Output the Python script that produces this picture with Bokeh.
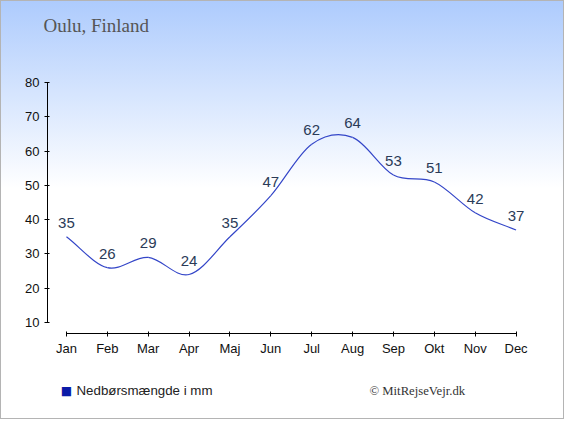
import numpy as np
from bokeh.plotting import figure
from bokeh.layouts import column
from bokeh.models import FixedTicker, Label, Range1d, Title
from bokeh.embed import file_html
from bokeh.resources import INLINE
from bokeh.core.properties import value

months = ["Jan", "Feb", "Mar", "Apr", "Maj", "Jun", "Jul", "Aug", "Sep", "Okt", "Nov", "Dec"]
precip = [35, 26, 29, 24, 35, 47, 62, 64, 53, 51, 42, 37]
y_ticks = [10, 20, 30, 40, 50, 60, 70, 80]
title_text = "Oulu, Finland"
legend_text = "Nedbørsmængde i mm"
credit_text = "© MitRejseVejr.dk"

W = 564
H_TOP, H_MAIN, H_BOT = 72, 286, 61


def blank_fig(h, title=None):
    f = figure(width=W, height=h, output_backend="svg", toolbar_location=None,
               title=title, x_axis_location=None, y_axis_location=None,
               x_range=Range1d(0, 1), y_range=Range1d(0, 1), min_border=0)
    f.background_fill_color = None
    f.border_fill_color = None
    f.outline_line_color = None
    f.grid.visible = False
    return f


# --- title strip
top = blank_fig(H_TOP, Title(text=title_text, align="left", offset=-4, vertical_align="middle",
                             text_font="Liberation Serif", text_font_size="19px",
                             text_font_style="normal", text_color="#555555"))
top.min_border_top = 41

# --- main chart
p = figure(width=W, height=H_MAIN, output_backend="svg", toolbar_location=None, title=None,
           x_range=Range1d(-0.464, 11.5), y_range=Range1d(6.8, 80),
           min_border_left=47, min_border_right=28, min_border_top=10, min_border_bottom=25)
p.background_fill_color = None
p.border_fill_color = None
p.outline_line_color = None
p.xgrid.visible = False
p.ygrid.visible = False

p.xaxis.ticker = FixedTicker(ticks=list(range(len(months))))
p.xaxis.major_label_overrides = {i: m for i, m in enumerate(months)}
p.xaxis.bounds = (0, len(months) - 1)
p.yaxis.ticker = FixedTicker(ticks=y_ticks)
p.yaxis.bounds = (y_ticks[0], y_ticks[-1])
for ax in (p.xaxis[0], p.yaxis[0]):
    ax.axis_line_color = "black"
    ax.major_tick_line_color = "black"
    ax.major_tick_in = 2
    ax.major_tick_out = 3
    ax.minor_tick_line_color = None
    ax.major_label_text_font = "Liberation Sans"
    ax.major_label_text_font_size = "13px"
    ax.major_label_text_color = "#111111"
p.xaxis.major_label_standoff = 4
p.yaxis.major_label_standoff = 5

x = np.arange(len(precip), dtype=float)
y = np.array(precip, dtype=float)
mx = np.gradient(x)
my = np.gradient(y)
p.bezier(x0=x[:-1], y0=y[:-1], x1=x[1:], y1=y[1:],
         cx0=x[:-1] + mx[:-1] / 3, cy0=y[:-1] + my[:-1] / 3,
         cx1=x[1:] - mx[1:] / 3, cy1=y[1:] - my[1:] / 3,
         line_color="#3446c8", line_width=1.2)

p.text(x=x, y=y, text=[str(v) for v in precip], text_align="center",
       text_baseline="alphabetic", y_offset=-14, text_font=value("Liberation Sans"),
       text_font_size="15px", text_color="#2b3b58")

# --- legend strip (frame of this strip is aligned with the main frame: left edge at 47px)
bot = blank_fig(H_BOT)
bot.add_layout(Label(x=19, y=29, x_units="screen", y_units="screen", text="■",
                     text_font="DejaVu Sans", text_font_size="12px", text_align="center",
                     text_color="#0b1ba8", text_baseline="middle"))
bot.add_layout(Label(x=29, y=29, x_units="screen", y_units="screen", text=legend_text,
                     text_font="Liberation Sans", text_font_size="13.3px",
                     text_color="#222222", text_baseline="middle"))
bot.add_layout(Label(x=322, y=29, x_units="screen", y_units="screen", text=credit_text,
                     text_font="Liberation Serif", text_font_size="12.7px",
                     text_color="#333333", text_baseline="middle"))

page = column(top, p, bot, spacing=0,
              styles={"background": "linear-gradient(to bottom, #adcbfd 0%, #ffffff 45%, #ffffff 100%)",
                      "box-shadow": "inset 0 0 0 1px #b4b4b4"})

open("out.html", "w").write(file_html(page, INLINE))
